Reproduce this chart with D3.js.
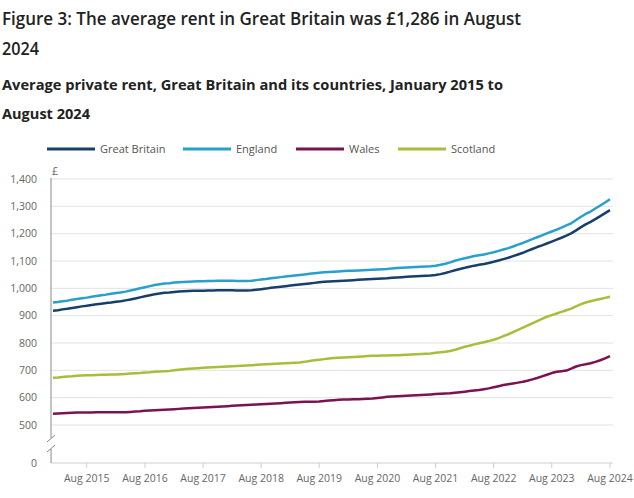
<!DOCTYPE html>
<html>
<head>
<meta charset="utf-8">
<script src="https://cdn.jsdelivr.net/npm/d3@7"></script>
<style>
  html, body { margin: 0; padding: 0; background: #fff; }
  svg { display: block; font-family: "Open Sans", sans-serif; }
</style>
</head>
<body>
<svg id="chart" width="634" height="498"></svg>
<script>
// ---- Data (monthly, January 2015 to August 2024) ----
const startYear = 2015, startMonth = 0; // January 2015
const seriesNames = ["Great Britain", "England", "Wales", "Scotland"];
const seriesColors = ["#173f6b", "#27a0cc", "#7c1250", "#a8bd3a"];

const greatBritain = [
  918, 920, 923, 925, 928, 931, 934, 936, 939, 942, 944, 946,
  948, 951, 953, 956, 959, 963, 967, 971, 975, 978, 981, 984,
  985, 987, 988, 989, 990, 991, 991, 991, 992, 992, 993, 993,
  993, 993, 992, 992, 992, 993, 995, 997, 999, 1002, 1004, 1006,
  1008, 1010, 1012, 1014, 1016, 1018, 1020, 1022, 1024, 1025, 1026, 1027,
  1028, 1029, 1030, 1031, 1032, 1033, 1034, 1035, 1036, 1037, 1039, 1040,
  1041, 1042, 1043, 1044, 1045, 1046, 1047, 1049, 1052, 1056, 1061, 1066,
  1071, 1075, 1079, 1083, 1086, 1089, 1093, 1097, 1102, 1107, 1112, 1118,
  1124, 1130, 1137, 1144, 1151, 1157, 1164, 1171, 1178, 1185, 1193, 1201,
  1212, 1224, 1234, 1243, 1253, 1264, 1275, 1286
];
const england = [
  948, 950, 953, 955, 958, 961, 964, 966, 969, 972, 975, 977,
  980, 983, 985, 988, 992, 996, 1000, 1004, 1008, 1012, 1015, 1018,
  1019, 1021, 1022, 1023, 1024, 1025, 1026, 1026, 1027, 1027, 1028, 1028,
  1028, 1028, 1027, 1027, 1027, 1028, 1030, 1032, 1034, 1037, 1039, 1041,
  1043, 1045, 1047, 1049, 1051, 1053, 1055, 1057, 1059, 1060, 1061, 1062,
  1063, 1064, 1064, 1065, 1066, 1067, 1068, 1069, 1070, 1071, 1073, 1074,
  1075, 1076, 1077, 1078, 1079, 1080, 1081, 1083, 1086, 1090, 1095, 1101,
  1106, 1110, 1114, 1118, 1121, 1124, 1128, 1132, 1137, 1142, 1147, 1153,
  1160, 1166, 1173, 1180, 1187, 1194, 1201, 1208, 1215, 1222, 1230, 1238,
  1250, 1262, 1272, 1281, 1292, 1303, 1314, 1326
];
const wales = [
  541, 542, 543, 544, 545, 546, 546, 546, 546, 547, 547, 547,
  547, 547, 547, 547, 548, 549, 550, 552, 553, 554, 555, 556,
  557, 558, 559, 560, 561, 562, 563, 564, 565, 566, 567, 568,
  569, 570, 571, 572, 573, 574, 575, 576, 577, 578, 579, 580,
  581, 582, 583, 584, 585, 585, 585, 586, 588, 590, 591, 592,
  593, 593, 594, 594, 595, 596, 597, 599, 601, 603, 604, 605,
  606, 607, 608, 609, 610, 611, 612, 613, 614, 615, 616, 618,
  620, 622, 624, 626, 628, 631, 634, 638, 642, 646, 649, 652,
  655, 658, 662, 667, 672, 678, 684, 690, 695, 697, 699, 706,
  714, 719, 722, 726, 731, 737, 744, 752
];
const scotland = [
  673, 674, 676, 677, 678, 680, 681, 682, 682, 683, 684, 684,
  685, 685, 686, 687, 688, 689, 690, 692, 693, 695, 696, 697,
  698, 700, 702, 704, 706, 707, 708, 709, 710, 711, 712, 713,
  714, 715, 716, 717, 718, 719, 720, 721, 722, 723, 724, 725,
  726, 727, 728, 729, 731, 734, 737, 739, 741, 743, 745, 746,
  747, 748, 749, 750, 751, 752, 753, 753, 754, 754, 755, 755,
  756, 757, 758, 759, 760, 761, 762, 764, 766, 768, 771, 775,
  781, 786, 790, 795, 799, 803, 807, 812, 818, 825, 832, 840,
  848, 856, 864, 872, 880, 888, 896, 902, 908, 914, 920, 926,
  934, 942, 948, 953, 957, 961, 965, 969
];
const seriesValues = [greatBritain, england, wales, scotland];

const yTickValues = [0, 500, 600, 700, 800, 900, 1000, 1100, 1200, 1300, 1400];
const xTickLabels = ["Aug 2015", "Aug 2016", "Aug 2017", "Aug 2018", "Aug 2019",
                     "Aug 2020", "Aug 2021", "Aug 2022", "Aug 2023", "Aug 2024"];
const xTickYears = [2015, 2016, 2017, 2018, 2019, 2020, 2021, 2022, 2023, 2024];

const titleLines = ["Figure 3: The average rent in Great Britain was £1,286 in August", "2024"];
const subtitleLines = ["Average private rent, Great Britain and its countries, January 2015 to", "August 2024"];

// ---- Layout ----
const svg = d3.select("#chart");
const dates = d3.range(greatBritain.length).map(i => new Date(startYear, startMonth + i, 1));

const x = d3.scaleTime()
  .domain([dates[0], dates[dates.length - 1]])
  .range([53, 610]);
const y = d3.scaleLinear()
  .domain([0, 500, 1400])
  .range([463, 425, 179]);

const gridLeft = 51, gridRight = 613;

// Titles
const titleWidths = [519, 37];
const subtitleWidths = [501, 88];
svg.append("g").selectAll("text").data(titleLines).join("text")
  .attr("x", 2).attr("y", (d, i) => 25 + i * 29.5)
  .attr("font-size", 18).attr("font-weight", 600).attr("fill", "#222")
  .attr("textLength", (d, i) => titleWidths[i]).attr("lengthAdjust", "spacingAndGlyphs")
  .text(d => d);
svg.append("g").selectAll("text").data(subtitleLines).join("text")
  .attr("x", 2).attr("y", (d, i) => 90 + i * 28.5)
  .attr("font-size", 15).attr("font-weight", 700).attr("fill", "#222")
  .attr("textLength", (d, i) => subtitleWidths[i]).attr("lengthAdjust", "spacingAndGlyphs")
  .text(d => d);

// Legend
const legendX = [47, 183, 296, 398];
const legend = svg.append("g").selectAll("g").data(seriesNames).join("g")
  .attr("transform", (d, i) => `translate(${legendX[i]},149)`);
legend.append("line").attr("x1", 0).attr("x2", 48).attr("y1", 0).attr("y2", 0)
  .attr("stroke", (d, i) => seriesColors[i]).attr("stroke-width", 3);
legend.append("text").attr("x", 53).attr("y", 4).attr("font-size", 11)
  .attr("fill", "#555").text(d => d);

// Gridlines (500..1400)
const gridVals = yTickValues.filter(v => v >= 500);
svg.append("g").selectAll("line").data(gridVals).join("line")
  .attr("x1", gridLeft).attr("x2", gridRight)
  .attr("y1", d => y(d)).attr("y2", d => y(d))
  .attr("stroke", "#e3e3e3").attr("stroke-width", 1);

// Y tick labels
svg.append("g").selectAll("text").data(yTickValues).join("text")
  .attr("x", 37).attr("y", d => y(d)).attr("dy", "0.35em")
  .attr("text-anchor", "end").attr("font-size", 10.5).attr("fill", "#666")
  .text(d => d3.format(",")(d));

// Unit label
svg.append("text").attr("x", 52).attr("y", 175).attr("font-size", 11)
  .attr("fill", "#666").text("£");

// Bottom axis line
svg.append("line").attr("x1", gridLeft).attr("x2", gridRight)
  .attr("y1", y(0)).attr("y2", y(0)).attr("stroke", "#cfcfcf").attr("stroke-width", 1);

// X ticks
const xTicks = svg.append("g").selectAll("g").data(xTickYears).join("g")
  .attr("transform", d => `translate(${x(new Date(d, 7, 1))},${y(0)})`);
xTicks.append("line").attr("y1", 0).attr("y2", 5).attr("stroke", "#cfcfcf");
xTicks.append("text").attr("y", 19).attr("text-anchor", "middle")
  .attr("font-size", 10.5).attr("fill", "#666").text((d, i) => xTickLabels[i]);

// Y axis line with break
const axisG = svg.append("g").attr("stroke", "#888").attr("stroke-width", 1).attr("fill", "none");
axisG.append("line").attr("x1", gridLeft).attr("x2", gridLeft).attr("y1", 178).attr("y2", 438);
axisG.append("line").attr("x1", gridLeft).attr("x2", gridLeft).attr("y1", 449).attr("y2", y(0));
axisG.append("line").attr("x1", 47).attr("y1", 442).attr("x2", 55).attr("y2", 435);
axisG.append("line").attr("x1", 47).attr("y1", 452).attr("x2", 55).attr("y2", 445);

// Lines
const line = d3.line().x((d, i) => x(dates[i])).y(d => y(d)).curve(d3.curveLinear);
svg.append("g").selectAll("path").data(seriesValues).join("path")
  .attr("d", d => line(d))
  .attr("fill", "none")
  .attr("stroke", (d, i) => seriesColors[i])
  .attr("stroke-width", 2.5)
  .attr("stroke-linejoin", "round");
</script>
</body>
</html>
